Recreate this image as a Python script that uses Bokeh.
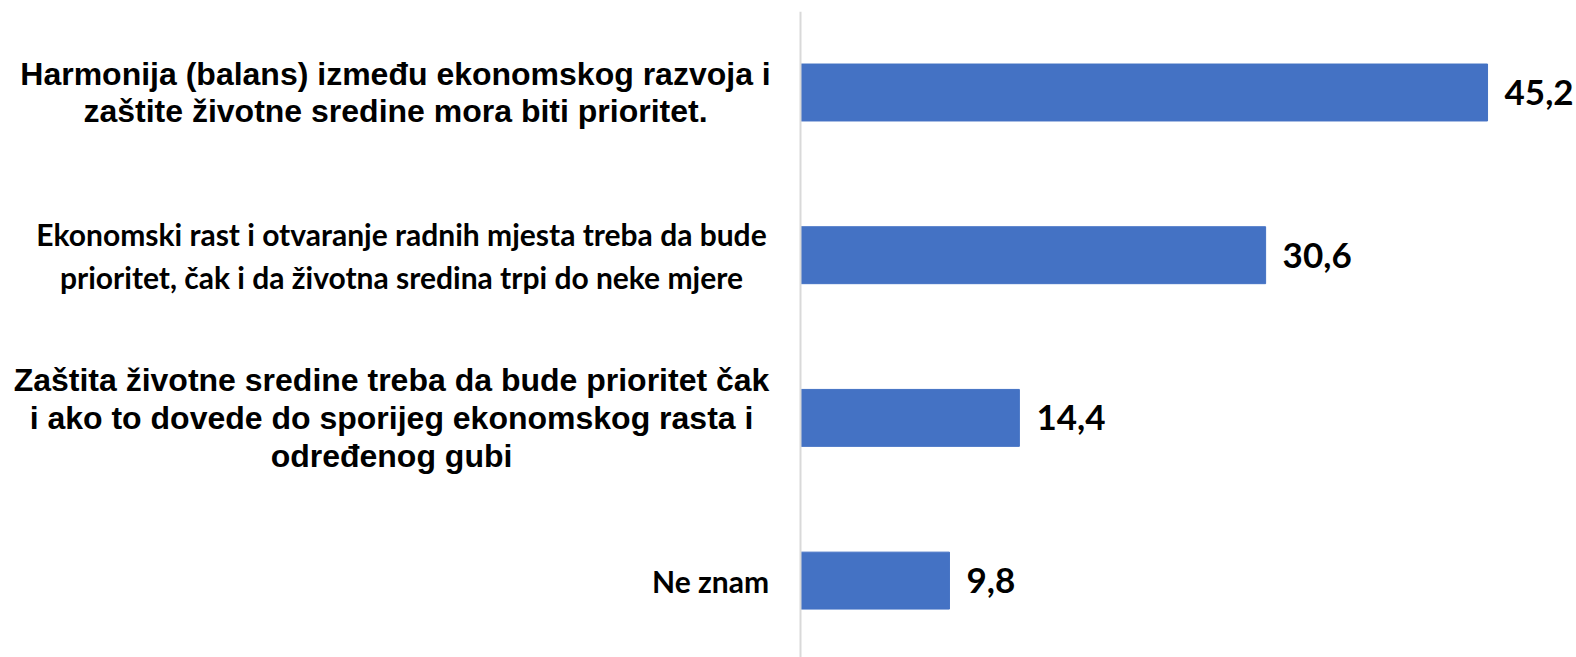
from bokeh.plotting import figure
from bokeh.models import Range1d, Span, ColumnDataSource
from bokeh.core.properties import value
from bokeh.embed import file_html
from bokeh.resources import INLINE
import numpy as np

# ---- data ----
categories = [
    "Harmonija (balans) između ekonomskog razvoja i\nzaštite životne sredine mora biti prioritet.",
    "Ekonomski rast i otvaranje radnih mjesta treba da bude\nprioritet, čak i da životna sredina trpi do neke mjere",
    "Zaštita životne sredine treba da bude prioritet čak\ni ako to dovede do sporijeg ekonomskog rasta i\nodređenog gubi",
    "Ne znam",
]
values = [45.2, 30.6, 14.4, 9.8]
value_labels = [f"{v:.1f}".replace(".", ",") for v in values]

# ---- layout ----
W, H = 1576, 657
zero_px = 800              # x of value 0 relative to figure left
px_per_unit = 15.2
unit_y = 162.7             # px per category slot
top_border = 11
top_pad = (92 - top_border) / unit_y

ypos = -np.arange(len(values), dtype=float)

p = figure(width=W, height=H, output_backend="svg", toolbar_location=None,
           min_border_left=0, min_border_right=0, min_border_top=top_border,
           min_border_bottom=0)
p.x_range = Range1d(-zero_px / px_per_unit, (W - zero_px) / px_per_unit)
frame_h = H - top_border
p.y_range = Range1d(top_pad - frame_h / unit_y, top_pad)
p.xaxis.visible = False
p.yaxis.visible = False
p.grid.visible = False
p.outline_line_color = None
p.background_fill_color = "white"

axis_line = Span(location=0, dimension="height", line_color="#d9d9d9", line_width=2)
p.add_layout(axis_line)

src = ColumnDataSource(dict(y=ypos, v=values, lab=value_labels))
p.hbar(y="y", right="v", left=0, height=0.35, source=src,
       fill_color="#4472C4", line_color="#4472C4")

p.text(x="v", y="y", text="lab", source=src, x_offset=17,
       text_align="left", text_baseline="middle",
       text_font=value("Lato"), text_font_style="bold",
       text_font_size="35px", text_color="black")

# category label styles
label_styles = [
    dict(font="Liberation Sans", size="32px", lh=1.05, cx=395),
    dict(font="Lato", size="30px", lh=1.2, cx=401),
    dict(font="Liberation Sans", size="32px", lh=1.05, cx=391),
    dict(font="Lato", size="30px", lh=1.2, cx=710),
]
for i, (cat, st) in enumerate(zip(categories, label_styles)):
    s = ColumnDataSource(dict(x=[0], y=[ypos[i]], t=[cat]))
    p.text(x="x", y="y", text="t", source=s, x_offset=st["cx"] - zero_px,
           text_align="center", text_baseline="middle",
           text_font=value(st["font"]), text_font_style="bold",
           text_font_size=st["size"], text_line_height=st["lh"],
           text_color="black")

open("out.html", "w").write(file_html(p, INLINE))
